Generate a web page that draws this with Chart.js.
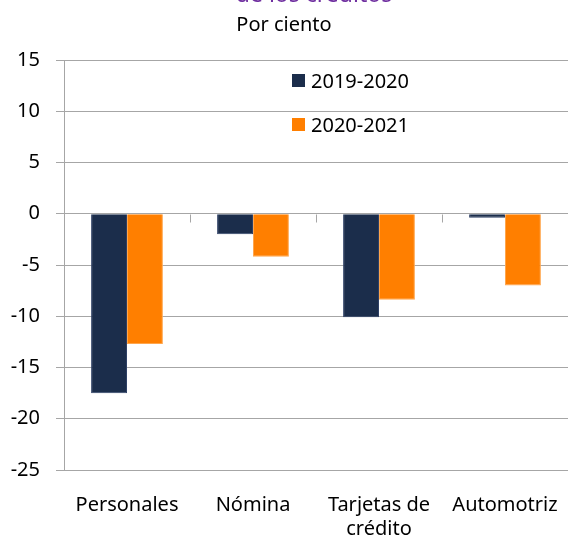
<!DOCTYPE html>
<html>
<head>
<meta charset="utf-8">
<script src="https://cdn.jsdelivr.net/npm/chart.js@4"></script>
<style>
  body { margin: 0; background: #fff; }
  #wrap { position: relative; width: 568px; height: 540px; overflow: hidden; }
  #title { position: absolute; top: -23px; left: 0; width: 628px; text-align: center; color: #7030A0; font: 23px 'Noto Sans', sans-serif; white-space: nowrap; }
  #sub { position: absolute; top: 10px; left: 0; width: 568px; text-align: center; color: #000; font: 20px 'Noto Sans', sans-serif; }
  #sub span { position: relative; left: 0px; }
</style>
</head>
<body>
<div id="wrap">
  <div id="title">de los créditos</div>
  <div id="sub"><span>Por ciento</span></div>
  <canvas id="c" width="568" height="540"></canvas>
</div>
<script>
const categories = ['Personales', 'Nómina', ['Tarjetas de', 'crédito'], 'Automotriz'];
const seriesNames = ['2019-2020', '2020-2021'];
const values1920 = [-17.5, -2.0, -10.1, -0.4];
const values2021 = [-12.7, -4.2, -8.4, -7.0];
const colors = ['#1B2D4B', '#FF7F00'];

const font = "'Noto Sans', sans-serif";

// legend boxes inside the plot + tick marks on the zero line
const extras = {
    id: 'extras',
    afterDraw(chart) {
        const { ctx, scales: { x, y } } = chart;
        ctx.save();
        ctx.strokeStyle = '#A6A6A6';
        ctx.lineWidth = 1;
        const y0 = Math.round(y.getPixelForValue(0)) + 0.5;
        for (let i = 0; i < categories.length - 1; i++) {
            const xb = Math.round((x.getPixelForValue(i) + x.getPixelForValue(i + 1)) / 2) + 0.5;
            ctx.beginPath();
            ctx.moveTo(xb, y0);
            ctx.lineTo(xb, y0 + 8);
            ctx.stroke();
        }
        ctx.font = `20px ${font}`;
        ctx.textBaseline = 'alphabetic';
        seriesNames.forEach((name, i) => {
            const ly = 81 + i * 44;
            ctx.fillStyle = colors[i];
            ctx.fillRect(292, ly - 7, 13, 13);
            ctx.fillStyle = '#000';
            ctx.fillText(name, 311, ly + 7);
        });
        ctx.restore();
    }
};

new Chart(document.getElementById('c'), {
    type: 'bar',
    data: {
        labels: categories,
        datasets: seriesNames.map((name, i) => ({
            label: name,
            data: i === 0 ? values1920 : values2021,
            backgroundColor: colors[i],
            borderColor: i === 0 ? '#2E4066' : '#FFA64D',
            borderWidth: 1,
            categoryPercentage: 0.57,
            barPercentage: 1
        }))
    },
    options: {
        responsive: false,
        animation: false,
        layout: { padding: { top: 60, right: 0, left: 0, bottom: 0 } },
        scales: {
            x: {
                grid: { display: false },
                border: { display: false },
                ticks: { color: '#000', font: { family: font, size: 20, lineHeight: 1.2 }, maxRotation: 0, padding: 15 },
                afterFit: s => { s.height = 70; s.paddingLeft = 0; s.paddingRight = 0; }
            },
            y: {
                min: -25, max: 15,
                grid: { color: '#A6A6A6', tickLength: 8 },
                border: { color: '#A6A6A6' },
                ticks: { stepSize: 5, color: '#000', font: { family: font, size: 20 }, padding: 16 },
                afterFit: s => { s.width = 64; }
            }
        },
        plugins: { legend: { display: false }, tooltip: { enabled: false } }
    },
    plugins: [extras]
});
</script>
</body>
</html>
